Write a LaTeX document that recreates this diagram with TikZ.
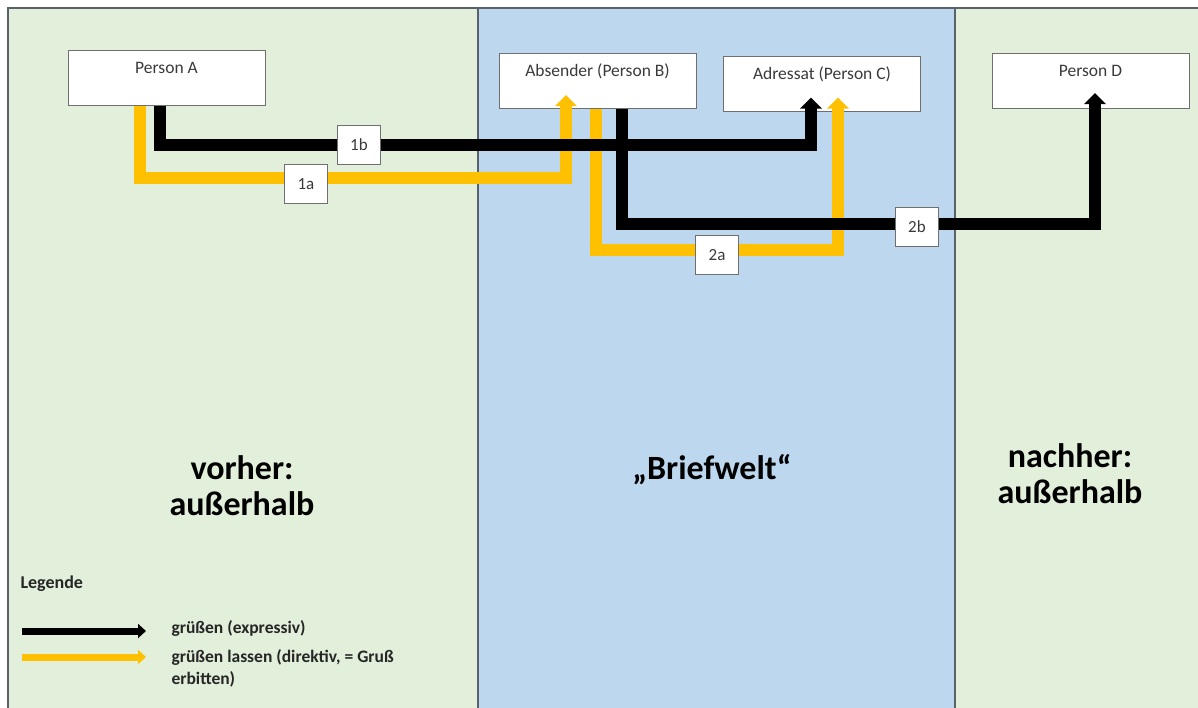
\documentclass[tikz,border=0pt]{standalone}
\usepackage{fontspec}
\setmainfont{Carlito}
\usetikzlibrary{arrows.meta}
\definecolor{pgreen}{HTML}{E2EFDA}
\definecolor{pblue}{HTML}{BDD7EE}
\definecolor{pborder}{HTML}{59616A}
\definecolor{gold}{HTML}{FFC000}
\definecolor{boxline}{HTML}{6F6F6F}
\definecolor{boxtext}{HTML}{3A3A3A}
\tikzset{
  panel/.style={draw=pborder,line width=1.2pt},
  personbox/.style={draw=boxline,fill=white,line width=1pt,minimum width=197pt,
     inner ysep=4pt,text height=19pt,text depth=28pt,font=\fontsize{17.5}{20}\selectfont,text=boxtext},
  numbox/.style={draw=boxline,fill=white,line width=1pt,minimum width=43pt,minimum height=39pt,
     inner sep=0pt,font=\fontsize{17}{20}\selectfont,text=boxtext},
  blackarr/.style={line width=12pt,black,line join=miter,-{Triangle[width=21pt,length=11pt]}},
  goldarr/.style={line width=12pt,gold,line join=miter,-{Triangle[width=21pt,length=11pt]}},
  bigtext/.style={font=\fontsize{34}{36}\selectfont\bfseries,align=center},
  legtext/.style={font=\fontsize{17.5}{22}\selectfont\bfseries,align=left,anchor=west,text=black!85},
}
\begin{document}
\begin{tikzpicture}[x=1pt,y=-1pt]
\useasboundingbox (0,0) rectangle (1198,707);
\fill[white] (0,0) rectangle (1198,707);
% panels
\fill[pgreen] (8,8) rectangle (478,710);
\fill[pblue] (478,8) rectangle (955,710);
\fill[pgreen] (955,8) rectangle (1200,710);
\draw[panel] (8,710) -- (8,8) -- (1200,8);
\draw[panel] (478,8) -- (478,710);
\draw[panel] (955,8) -- (955,710);

% persons
\node[personbox] (A) at (166.5,77.5) {Person A};
\node[personbox] (B) at (597.5,81) {Absender (Person B)};
\node[personbox] (C) at (822,83.5) {Adressat (Person C)};
\node[personbox] (D) at (1090.5,81) {Person D};

% route coordinates
\coordinate (y1a) at (0,178);
\coordinate (y1b) at (0,145);
\coordinate (y2a) at (0,250);
\coordinate (y2b) at (0,224);

% gold arrows first
\draw[goldarr] ([xshift=-26.5pt]A.south) |- (y1a -| 566,0) -- ([xshift=-31.5pt,yshift=14pt]B.south);
\draw[goldarr] ([xshift=-1.5pt]B.south) |- (y2a -| 838,0) -- ([xshift=16pt,yshift=14pt]C.south);
% black arrows
\draw[blackarr] ([xshift=-6.5pt]A.south) |- (y1b -| 811,0) -- ([xshift=-11pt,yshift=14pt]C.south);
\draw[blackarr] ([xshift=24.5pt]B.south) |- (y2b -| 1095,0) -- ([xshift=4.5pt,yshift=16pt]D.south);

% number boxes
\node[numbox] (n1b) at (359,145) {1b};
\node[numbox] (n1a) at (306,184) {1a};
\node[numbox] (n2a) at (717,255) {2a};
\node[numbox] (n2b) at (917,226.5) {2b};

% region labels
\node[bigtext] (vorher) at (242,486) {vorher:\\außerhalb};
\node[bigtext] (brief) at (712,470) {„Briefwelt“};
\node[bigtext] (nachher) at (1070,474) {nachher:\\außerhalb};

% legend
\node[font=\fontsize{18}{20}\selectfont\bfseries,anchor=west,text=black!85] (leg) at (17,584) {Legende};
\coordinate (lb0) at (22,631);
\coordinate (lb1) at (146,631);
\coordinate (lg0) at (22,657);
\coordinate (lg1) at (146,657);
\draw[line width=7pt,black,-{Triangle[width=14pt,length=8pt]}] (lb0) -- (lb1);
\draw[line width=7pt,gold,-{Triangle[width=14pt,length=8pt]}] (lg0) -- (lg1);
\node[legtext] (t1) at (168,628) {grüßen (expressiv)};
\node[legtext,anchor=north west] (t2) at (168,646) {grüßen lassen (direktiv, = Gruß\\erbitten)};
\end{tikzpicture}
\end{document}
